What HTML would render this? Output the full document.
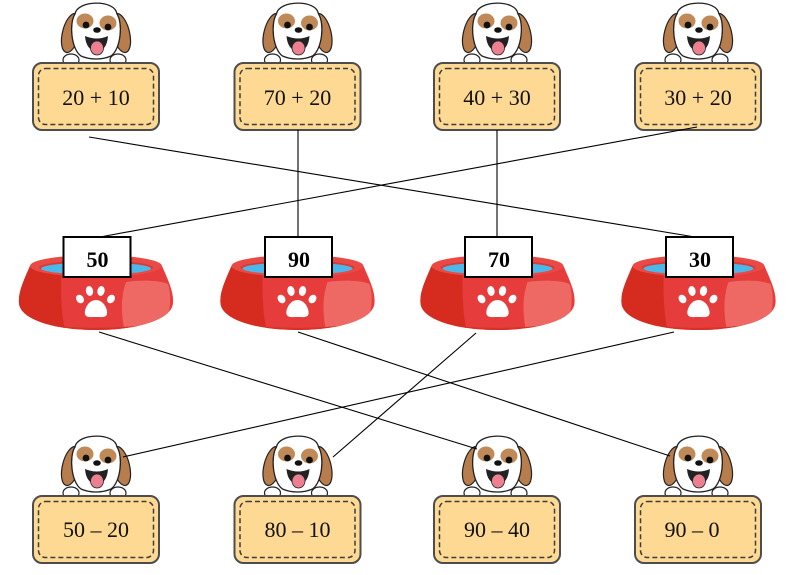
<!DOCTYPE html>
<html>
<head>
<meta charset="utf-8">
<style>
html,body{margin:0;padding:0;background:#fff;}
svg{display:block;}
.t{font-family:"Liberation Serif",serif;font-size:22px;fill:#111;text-anchor:middle;}
.b{font-family:"Liberation Serif",serif;font-size:22px;font-weight:bold;fill:#000;text-anchor:middle;}
</style>
</head>
<body>
<svg width="794" height="575" viewBox="0 0 794 575" xmlns="http://www.w3.org/2000/svg">
<defs>
  <g id="dog">
    <!-- ears -->
    <ellipse cx="-25" cy="-30" rx="8.5" ry="20" transform="rotate(14 -25 -30)" fill="#b77d4c" stroke="#222" stroke-width="1.2"/>
    <ellipse cx="25" cy="-30" rx="8.5" ry="20" transform="rotate(-14 25 -30)" fill="#b77d4c" stroke="#222" stroke-width="1.2"/>
    <!-- head -->
    <path d="M-21,-49 C-19,-63 19,-64 21,-49 C27,-40 25,-14 15,-7 C6,-3 -6,-3 -15,-7 C-25,-14 -27,-40 -21,-49 Z" fill="#fff" stroke="#222" stroke-width="1.3"/>
    <!-- eye patches -->
    <ellipse cx="-11" cy="-42" rx="8.5" ry="7.5" fill="#c08a58"/>
    <ellipse cx="12" cy="-40" rx="8.5" ry="7.5" fill="#c08a58"/>
    <circle cx="-10" cy="-38" r="3.4" fill="#111"/>
    <circle cx="12" cy="-36" r="3.4" fill="#111"/>
    <ellipse cx="1" cy="-33" rx="3.8" ry="2.8" fill="#111"/>
    <!-- mouth -->
    <path d="M-11,-27 Q1,-22 12,-27 Q11,-13 1,-11 Q-10,-13 -11,-27 Z" fill="#222"/>
    <ellipse cx="1" cy="-15" rx="6.5" ry="7" fill="#ec8090" stroke="#222" stroke-width="0.8"/>
    <!-- paws -->
    <ellipse cx="-25" cy="-3" rx="8" ry="6" fill="#fff" stroke="#222" stroke-width="1.2"/>
    <ellipse cx="22" cy="-3" rx="8" ry="6" fill="#fff" stroke="#222" stroke-width="1.2"/>
  </g>
  <g id="card">
    <rect x="-63" y="0" width="126" height="67" rx="9" fill="#fdd993" stroke="#4d4d4d" stroke-width="2"/>
    <rect x="-57.5" y="5.5" width="115" height="56" rx="7" fill="none" stroke="#3d3d3d" stroke-width="1.5" stroke-dasharray="5 3"/>
  </g>
  <clipPath id="bc">
    <path d="M-66,266 C-72,280 -78,292 -77,303 C-76,320 -40,330 0,330 C40,330 76,320 77,303 C78,292 72,280 66,266 Z"/>
  </clipPath>
  <g id="bowl">
    <g clip-path="url(#bc)">
      <rect x="-80" y="250" width="160" height="85" fill="#e63c3b"/>
      <path d="M-80,250 L-33,250 C-36,280 -36,310 -30,335 L-80,335 Z" fill="#d62b1f"/>
      <path d="M30,282 C45,280 62,280 72,284 C76,296 74,312 70,322 C58,326 40,328 28,328 C25,312 25,296 30,282 Z" fill="#ee6963"/>
      <path d="M-80,318 C-50,331 50,331 80,318 L80,335 L-80,335 Z" fill="#d83228"/>
    </g>
    <ellipse cx="0" cy="266" rx="66" ry="11" fill="#ea4a46"/>
    <ellipse cx="0" cy="267.5" rx="57" ry="7" fill="#d93a35"/>
    <ellipse cx="0" cy="268.5" rx="55" ry="6" fill="#4cb8ea"/>
    <!-- paw -->
    <path d="M0,300 C-8,300 -12,310 -11,314 C-10,318 -5,317 0,317 C5,317 10,318 11,314 C12,310 8,300 0,300 Z" fill="#fff"/>
    <ellipse cx="-16" cy="299" rx="3.6" ry="4.6" transform="rotate(-35 -16 299)" fill="#fff"/>
    <ellipse cx="-6.5" cy="291" rx="3.6" ry="5" transform="rotate(-12 -6.5 291)" fill="#fff"/>
    <ellipse cx="5" cy="291" rx="3.6" ry="5" transform="rotate(12 5 291)" fill="#fff"/>
    <ellipse cx="15" cy="299" rx="3.6" ry="4.6" transform="rotate(35 15 299)" fill="#fff"/>
    <!-- label -->
    <rect x="-32.5" y="237" width="67" height="40" fill="#fff" stroke="#000" stroke-width="2"/>
  </g>
</defs>

<!-- top row -->
<g transform="translate(96,63)"><use href="#dog"/><use href="#card"/><text class="t" x="0" y="42">20 + 10</text></g>
<g transform="translate(297.5,63)"><use href="#dog"/><use href="#card"/><text class="t" x="0" y="42">70 + 20</text></g>
<g transform="translate(497,63)"><use href="#dog"/><use href="#card"/><text class="t" x="0" y="42">40 + 30</text></g>
<g transform="translate(698,63)"><use href="#dog"/><use href="#card"/><text class="t" x="0" y="42">30 + 20</text></g>

<!-- bowls -->
<g transform="translate(96,0)"><use href="#bowl"/><text class="b" x="1.5" y="267">50</text></g>
<g transform="translate(297.5,0)"><use href="#bowl"/><text class="b" x="1.5" y="267">90</text></g>
<g transform="translate(497.5,0)"><use href="#bowl"/><text class="b" x="1.5" y="267">70</text></g>
<g transform="translate(698.5,0)"><use href="#bowl"/><text class="b" x="1.5" y="267">30</text></g>

<!-- bottom row -->
<g transform="translate(96,496)"><use href="#dog"/><use href="#card"/><text class="t" x="0" y="41">50 – 20</text></g>
<g transform="translate(297.5,496)"><use href="#dog"/><use href="#card"/><text class="t" x="0" y="41">80 – 10</text></g>
<g transform="translate(497,496)"><use href="#dog"/><use href="#card"/><text class="t" x="0" y="41">90 – 40</text></g>
<g transform="translate(698,496)"><use href="#dog"/><use href="#card"/><text class="t" x="-6" y="41">90 – 0</text></g>

<!-- connectors -->
<g stroke="#000" stroke-width="1.1" fill="none">
  <line x1="89" y1="137" x2="695" y2="237"/>
  <line x1="298" y1="130" x2="298" y2="237"/>
  <line x1="497" y1="130" x2="497" y2="237"/>
  <line x1="697" y1="127" x2="100" y2="237"/>
  <line x1="99" y1="332" x2="477" y2="449"/>
  <line x1="298" y1="332" x2="670" y2="456"/>
  <line x1="476" y1="333" x2="333" y2="457"/>
  <line x1="674" y1="332" x2="123" y2="457"/>
</g>
</svg>
</body>
</html>
